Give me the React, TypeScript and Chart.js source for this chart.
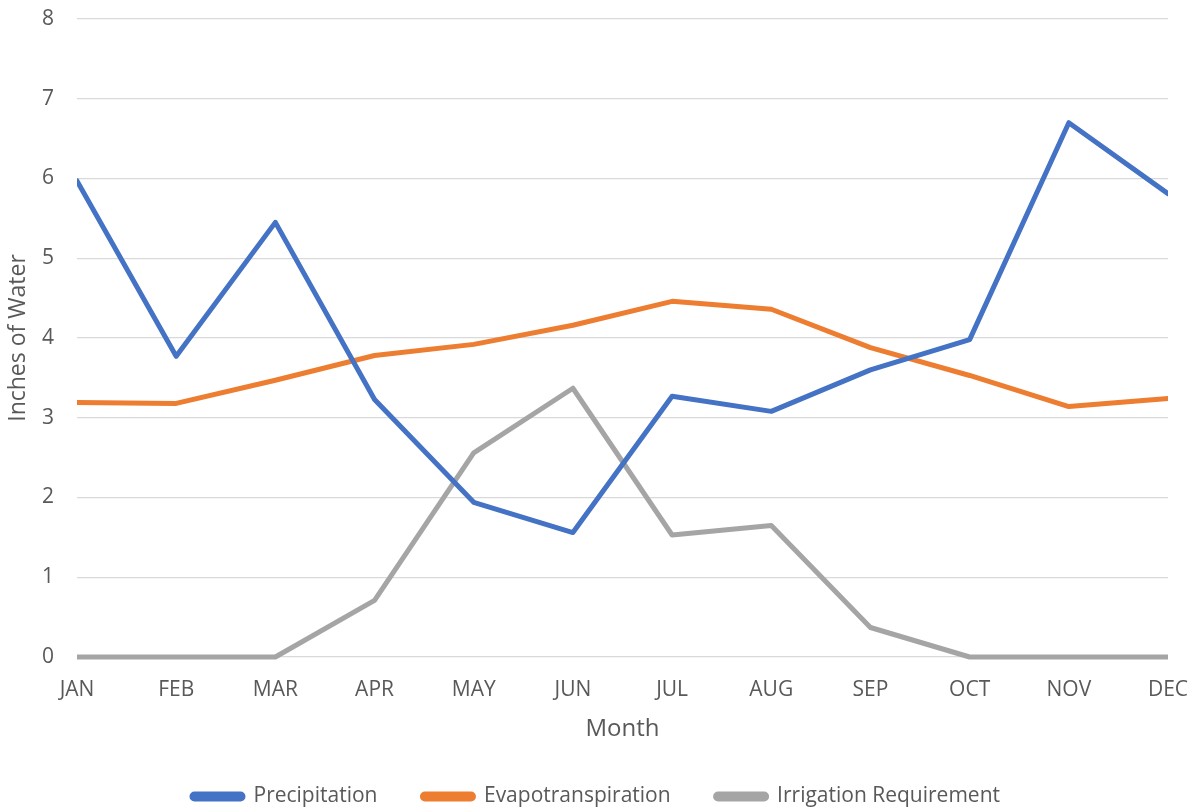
import React, { useEffect, useRef } from "react";
import { Chart, registerables } from "chart.js";

Chart.register(...registerables);

const months = ["JAN", "FEB", "MAR", "APR", "MAY", "JUN", "JUL", "AUG", "SEP", "OCT", "NOV", "DEC"];
const precipitation = [5.97, 3.77, 5.45, 3.23, 1.94, 1.56, 3.27, 3.08, 3.6, 3.98, 6.7, 5.81];
const evapotranspiration = [3.19, 3.18, 3.47, 3.78, 3.92, 4.16, 4.46, 4.36, 3.88, 3.53, 3.14, 3.24];
const irrigation = [0, 0, 0, 0.71, 2.56, 3.37, 1.53, 1.65, 0.37, 0, 0, 0];
const yTicks = [0, 1, 2, 3, 4, 5, 6, 7, 8];

const FONT = "'Open Sans', sans-serif";
const TEXT = "#595959";

export default function App() {
  const ref = useRef<HTMLCanvasElement | null>(null);
  useEffect(() => {
    if (!ref.current) return;
    const mk = (label: string, data: number[], color: string) => ({
      label,
      data,
      borderColor: color,
      backgroundColor: color,
      borderWidth: 5,
      pointRadius: 0,
      pointHoverRadius: 0,
      tension: 0,
      borderJoinStyle: "round" as const,
      borderCapStyle: "round" as const,
      clip: { left: 0, right: 0, top: false, bottom: false } as any,
    });
    const chart = new Chart(ref.current, {
      type: "line",
      data: {
        labels: months,
        datasets: [
          mk("Precipitation", precipitation, "#4472C4"),
          mk("Evapotranspiration", evapotranspiration, "#ED7D31"),
          mk("Irrigation Requirement", irrigation, "#A5A5A5"),
        ],
      },
      options: {
        animation: false,
        responsive: false,
        layout: { padding: { top: 19, right: 0, left: 0, bottom: -7 } },
        plugins: {
          tooltip: { enabled: false },
          legend: {
            position: "bottom",
            labels: {
              boxWidth: 51,
              boxHeight: 5,
              useBorderRadius: true,
              borderRadius: 2.5,
              padding: 45,
              color: TEXT,
              font: { family: FONT, size: 21 },
            },
          },
        },
        scales: {
          x: {
            type: "category",
            offset: false,
            grid: { display: false, drawTicks: false },
            border: { display: false },
            ticks: { color: TEXT, font: { family: FONT, size: 21 }, padding: 20, maxRotation: 0, autoSkip: false },
            title: { display: true, text: "Month", color: TEXT, font: { family: FONT, size: 24 }, padding: { top: 0, bottom: -3 } },
            afterFit: (s: any) => {
              s.height = 84;
              s.paddingRight = 24;
              s.paddingLeft = 0;
            },
          },
          y: {
            min: 0,
            max: 8,
            afterBuildTicks: (s: any) => {
              s.ticks = yTicks.map((v) => ({ value: v }));
            },
            grid: { color: "#D9D9D9", lineWidth: 1.3, drawTicks: false },
            border: { display: false },
            ticks: { color: TEXT, font: { family: FONT, size: 21 }, padding: 23 },
            title: { display: true, text: "Inches of Water", color: TEXT, font: { family: FONT, size: 23 }, padding: { top: 5, bottom: 0 } },
            afterFit: (s: any) => {
              s.width = 77;
              s.paddingTop = 0;
              s.paddingBottom = 0;
            },
          },
        },
      },
    });
    return () => chart.destroy();
  }, []);
  return (
    <div style={{ position: "absolute", left: 0, top: 0, width: 1192, height: 810, background: "#fff" }}>
      <canvas ref={ref} width={1192} height={810} />
    </div>
  );
}
